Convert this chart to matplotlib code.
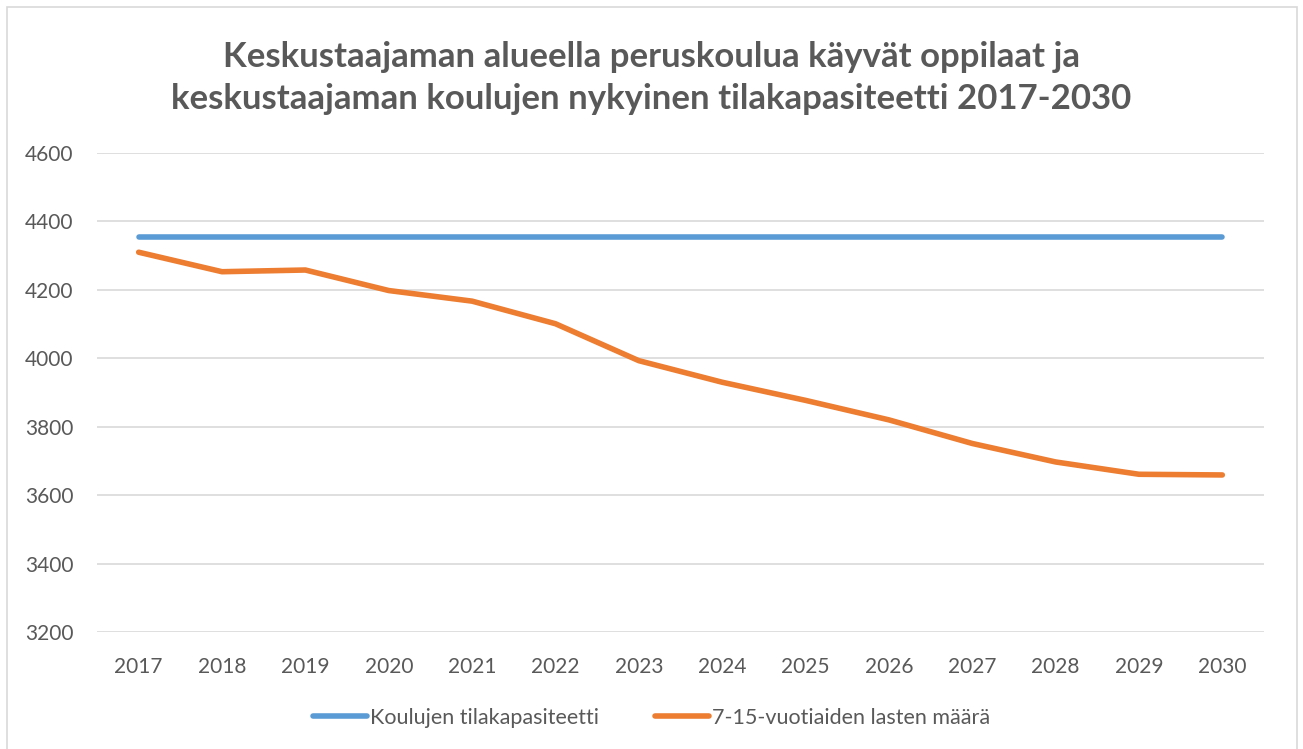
import matplotlib.pyplot as plt
from matplotlib.patches import Rectangle

years = ['2017', '2018', '2019', '2020', '2021', '2022', '2023',
         '2024', '2025', '2026', '2027', '2028', '2029', '2030']
capacity = [4355] * 14
children = [4310, 4253, 4258, 4198, 4167, 4101, 3993,
            3930, 3877, 3820, 3751, 3697, 3661, 3659]

title = ('Keskustaajaman alueella peruskoulua käyvät oppilaat ja\n'
         'keskustaajaman koulujen nykyinen tilakapasiteetti 2017-2030')
labels = ['Koulujen tilakapasiteetti', '7-15-vuotiaiden lasten määrä']

plt.rcParams['font.family'] = ['Lato', 'DejaVu Sans']
text_gray = '#595959'

fig = plt.figure(figsize=(13.03, 7.49), dpi=100)
ax = fig.add_axes([97 / 1303, 1 - 632 / 749, (1264 - 97) / 1303, (632 - 153) / 749])

x = range(len(years))
ax.plot(x, capacity, color='#5B9BD5', lw=4, solid_capstyle='round', label=labels[0])
ax.plot(x, children, color='#ED7D31', lw=4, solid_capstyle='round',
        solid_joinstyle='round', label=labels[1])

ax.set_xlim(-0.5, len(years) - 0.5)
ax.set_ylim(3200, 4600)
ax.set_yticks(range(3200, 4601, 200))
ax.set_xticks(list(x))
ax.set_xticklabels(years)
ax.grid(axis='y', color='#D9D9D9', lw=1.2)
ax.set_axisbelow(True)
for s in ax.spines.values():
    s.set_visible(False)
ax.tick_params(length=0, colors=text_gray, labelsize=15)
ax.tick_params(axis='y', pad=17)
ax.tick_params(axis='x', pad=18)

fig.text(0.5, 1 - 78 / 749, title, ha='center', va='center', fontsize=25,
         fontweight='bold', color=text_gray, linespacing=1.4)

leg = fig.legend(loc='center', bbox_to_anchor=(0.5, 1 - 718 / 749), ncol=2,
                 frameon=False, fontsize=15.5, handlelength=2.5,
                 handletextpad=0.15, columnspacing=2.6)
for t in leg.get_texts():
    t.set_color(text_gray)

fig.patches.append(Rectangle((7 / 1303, -0.01), 1290 / 1303, 1 - 7 / 749 + 0.01,
                             transform=fig.transFigure, fill=False,
                             edgecolor='#D9D9D9', lw=1.2))

fig.savefig('out.png', dpi=100)
